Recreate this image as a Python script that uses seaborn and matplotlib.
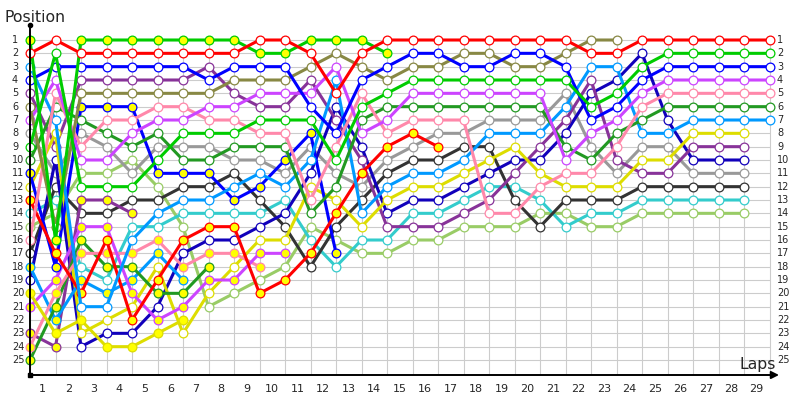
import matplotlib
matplotlib.use("Agg")
import matplotlib.pyplot as plt
import numpy as np
import pandas as pd
import seaborn as sns

sns.set_style("white")
plt.rcParams['font.family'] = ['DejaVu Sans']

# positions per lap (column 0 = start grid)
pos_R = [2, 1, 2, 2, 2, 2, 2, 2, 2, 1, 1, 2, 5, 2, 1, 1, 1, 1, 1, 1, 1, 1, 2, 2, 1, 1, 1, 1, 1, 1]
pos_G = [9, 2, 12, 12, 12, 10, 8, 8, 8, 7, 7, 7, 10, 6, 5, 4, 4, 4, 4, 4, 4, 4, 6, 5, 3, 2, 2, 2, 2, 2]
pos_B = [4, 3, 3, 3, 3, 3, 3, 4, 3, 3, 3, 6, 8, 4, 3, 2, 2, 3, 3, 2, 2, 3, 7, 6, 4, 3, 3, 3, 3, 3]
pos_V = [7, 4, 10, 10, 8, 7, 7, 6, 6, 5, 5, 5, 3, 8, 7, 5, 5, 5, 5, 5, 5, 10, 8, 7, 5, 4, 4, 4, 4, 4]
pos_PK = [16, 5, 9, 7, 7, 6, 6, 7, 7, 8, 8, 13, 9, 5, 8, 7, 7, 7, 14, 14, 12, 11, 11, 9, 6, 5, 5, 5, 5, 5]
pos_DG = [10, 6, 7, 8, 9, 8, 10, 10, 9, 9, 9, 14, 12, 7, 6, 6, 6, 6, 6, 6, 6, 9, 10, 8, 7, 6, 6, 6, 6, 6]
pos_LB = [3, 7, 21, 21, 16, 14, 13, 13, 12, 11, 12, 10, 4, 14, 12, 11, 11, 10, 8, 8, 8, 6, 3, 3, 8, 8, 7, 7, 7, 7]
pos_Y = [12, 8, 23, 22, 21, 18, 23, 20, 18, 16, 16, 12, 13, 15, 13, 12, 12, 11, 10, 9, 11, 12, 12, 12, 10, 10, 8, 8, 8]
pos_P = [5, 9, 4, 4, 4, 4, 4, 3, 5, 6, 6, 4, 7, 10, 15, 15, 15, 14, 13, 11, 9, 7, 4, 10, 11, 11, 9, 9, 9]
pos_DB = [19, 10, 24, 23, 23, 21, 17, 16, 16, 15, 14, 11, 6, 9, 14, 13, 13, 12, 11, 10, 10, 8, 5, 4, 2, 7, 10, 10, 10]
pos_Gr = [8, 11, 8, 9, 11, 9, 9, 9, 10, 10, 11, 9, 11, 12, 10, 9, 8, 8, 7, 7, 7, 5, 9, 11, 9, 9, 11, 11, 11]
pos_K = [17, 12, 14, 14, 13, 13, 12, 12, 11, 13, 15, 18, 15, 13, 11, 10, 10, 9, 9, 13, 15, 13, 13, 13, 12, 12, 12, 12, 12]
pos_T = [14, 13, 18, 19, 15, 15, 14, 14, 14, 14, 13, 16, 18, 16, 16, 14, 14, 13, 12, 12, 13, 15, 14, 14, 13, 13, 13, 13, 13]
pos_LG = [15, 14, 11, 11, 10, 12, 15, 21, 20, 19, 18, 15, 16, 17, 17, 16, 16, 15, 15, 15, 14, 14, 15, 15, 14, 14, 14, 14, 14]
pos_O = [6, 15, 5, 5, 5, 5, 5, 5, 4, 4, 4, 3, 2, 3, 4, 3, 3, 2, 2, 3, 3, 2, 1, 1]
pos_GY = [1, 16, 1, 1, 1, 1, 1, 1, 1, 2, 2, 1, 1, 1, 2]
pos_RY = [13, 17, 20, 16, 22, 19, 16, 15, 15, 20, 19, 17, 14, 11, 9, 8, 9]
pos_BY = [11, 18, 6, 6, 6, 11, 11, 11, 13, 12, 10, 8, 17]
pos_YY = [20, 23, 22, 24, 24, 23, 22]
pos_VY = [21, 19, 15, 15, 20, 22, 21, 19, 19, 17, 17]
pos_PKY = [24, 20, 17, 17, 17, 16, 18, 17, 17, 18]
pos_DGY = [25, 21, 16, 18, 18, 20, 20, 18]
pos_LBY = [18, 22, 19, 20, 19, 17, 19]
pos_PY = [23, 24, 13, 13, 14]

drivers = ["LG", "T", "K", "Gr", "DB", "P", "Y", "PY", "LBY", "DGY", "PKY", "VY", "YY",
           "BY", "RY", "LB", "DG", "PK", "V", "O", "B", "G", "GY", "R"]
positions = {"R": pos_R, "G": pos_G, "B": pos_B, "V": pos_V, "PK": pos_PK, "DG": pos_DG,
             "LB": pos_LB, "Y": pos_Y, "P": pos_P, "DB": pos_DB, "Gr": pos_Gr, "K": pos_K,
             "T": pos_T, "LG": pos_LG, "O": pos_O, "GY": pos_GY, "RY": pos_RY, "BY": pos_BY,
             "YY": pos_YY, "VY": pos_VY, "PKY": pos_PKY, "DGY": pos_DGY, "LBY": pos_LBY, "PY": pos_PY}
line_colors = {"R": "#ff0000", "G": "#00cc00", "B": "#0000ff", "V": "#cc44ff", "PK": "#ff88aa",
               "DG": "#229922", "LB": "#0099ff", "Y": "#dddd00", "P": "#883399", "DB": "#1100bb",
               "Gr": "#999999", "K": "#333333", "T": "#33cccc", "LG": "#99cc66", "O": "#888844",
               "GY": "#00cc00", "RY": "#ff0000", "BY": "#0000ff", "YY": "#dddd00", "VY": "#cc44ff",
               "PKY": "#ff88aa", "DGY": "#229922", "LBY": "#0099ff", "PY": "#883399"}
yellow_fill = ["GY", "RY", "BY", "YY", "VY", "PKY", "DGY", "LBY", "PY"]

lap_labels = [str(i) for i in range(1, 30)]
pos_labels = [str(i) for i in range(1, 26)]

rows = []
for d in drivers:
    for lap, p in enumerate(positions[d]):
        rows.append({"driver": d, "lap": lap, "pos": p})
df = pd.DataFrame(rows)

fig = plt.figure(figsize=(8, 4), dpi=100)
ax = fig.add_axes([0, 0, 1, 1])

# pixel layout: column c -> 30 + 25.5c, position p -> 40 + 13.333(p-1)
dx, dy = 25.5, 40 / 3
x0 = -30 / dx
x1 = (800 - 30) / dx
y_top = 1 - 40 / dy
y_bot = 1 + 360 / dy
axis_y = 1 + 335 / dy
top_y = 1 - 15 / dy

n_cols = 30
ax.vlines(range(n_cols), 0.8, axis_y, color="#cccccc", lw=0.8, zorder=0)
ax.hlines(range(1, 26), 0, n_cols - 1, color="#cccccc", lw=0.8, zorder=0)

for i, d in enumerate(drivers):
    sub = df[df.driver == d]
    fill = "#ffff00" if d in yellow_fill else "white"
    sns.lineplot(data=sub, x="lap", y="pos", ax=ax, color=line_colors[d], linewidth=2.2,
                 estimator=None, legend=False, marker="o", markersize=6.3,
                 markerfacecolor=fill, markeredgecolor=line_colors[d], markeredgewidth=0.9,
                 zorder=2 + i * 0.01)

# axes lines
ax.plot([0, 0], [top_y, axis_y], color="black", lw=1.4, zorder=5)
ax.annotate("", xy=((779 - 30) / dx, axis_y), xytext=(0, axis_y),
            arrowprops=dict(arrowstyle="-|>", color="black", lw=1.4, mutation_scale=11,
                            shrinkA=0, shrinkB=0), zorder=5)
ax.plot([0], [top_y], marker="o", color="black", ms=3, zorder=6)
ax.plot([0], [axis_y], marker="s", color="black", ms=2.5, zorder=6)

for i, lab in enumerate(pos_labels):
    ax.text(-18 / dx, i + 1, lab, fontsize=7, ha="left", va="center")
    ax.text((777 - 30) / dx, i + 1, lab, fontsize=7, ha="left", va="center")
for i, lab in enumerate(lap_labels):
    ax.text(i + 0.5, 1 + (389 - 40) / dy, lab, fontsize=8, ha="center", va="center")

ax.text(-25 / dx, 1 + (22 - 40) / dy, "Position", fontsize=11.3, ha="left", va="baseline")
ax.text((758 - 30) / dx, 1 + (369 - 40) / dy, "Laps", fontsize=11.3, ha="center", va="baseline")

ax.set_xlim(x0, x1)
ax.set_ylim(y_bot, y_top)
ax.axis("off")

fig.savefig("out.png", dpi=100)
